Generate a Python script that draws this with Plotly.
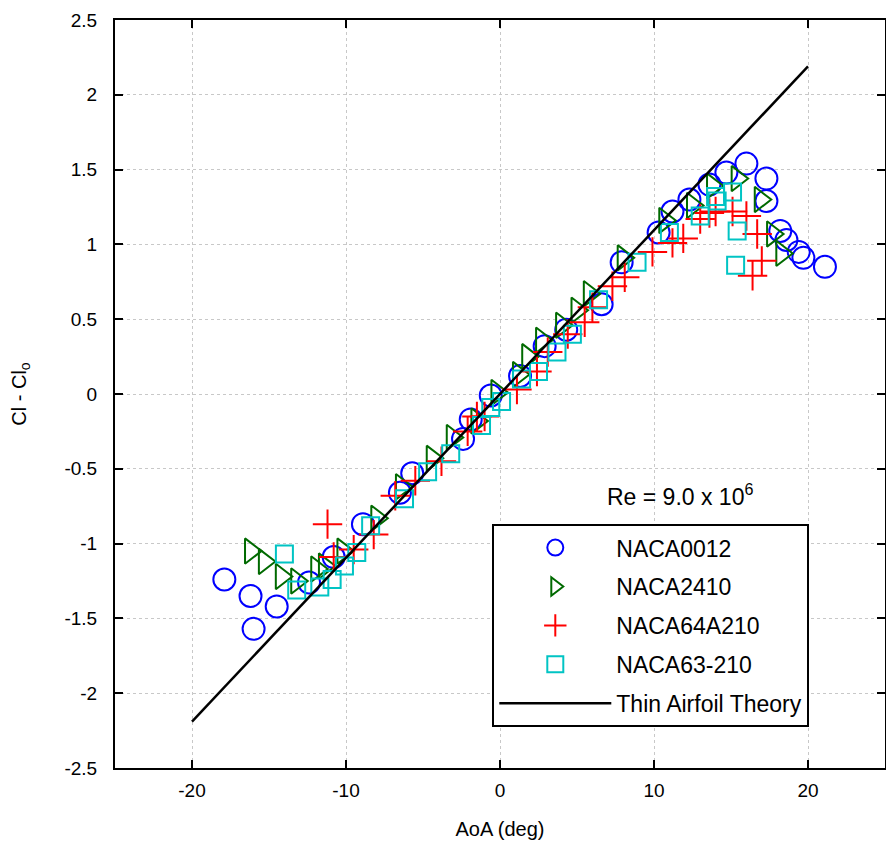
import plotly.graph_objects as go

# ---- data ----
naca0012_aoa = [-17.9, -16.2, -14.5, -16.0, -12.4, -10.8, -8.9, -6.5, -5.7, -2.4, -1.9, -0.6,
                1.3, 2.9, 4.3, 6.6, 7.9, 10.3, 11.2, 12.3, 13.6, 14.7, 16.0, 17.3, 17.3,
                18.2, 18.6, 19.4, 19.7, 21.1]
naca0012_cl = [-1.24, -1.35, -1.42, -1.57, -1.26, -1.09, -0.87, -0.66, -0.53, -0.30, -0.17, -0.01,
               0.12, 0.32, 0.43, 0.60, 0.88, 1.08, 1.22, 1.30, 1.40, 1.48, 1.54, 1.44, 1.29,
               1.09, 1.03, 0.95, 0.91, 0.85]

naca2410_aoa = [-16.2, -15.3, -14.2, -13.2, -11.9, -11.4, -10.2, -8.0, -6.4, -4.4, -3.1,
                -1.5, -0.2, 1.2, 1.8, 2.7, 4.0, 5.0, 5.8, 8.0, 10.7, 12.5, 13.8, 15.4,
                16.9, 17.7, 18.3]
naca2410_cl = [-1.05, -1.12, -1.22, -1.25, -1.17, -1.15, -1.05, -0.83, -0.62, -0.43, -0.29,
               -0.18, 0.01, 0.13, 0.25, 0.36, 0.46, 0.56, 0.67, 0.91, 1.16, 1.26, 1.39, 1.44,
               1.30, 1.07, 0.94]

naca64a210_aoa = [-11.2, -10.8, -9.5, -8.2, -6.8, -5.5, -3.8, -2.1, -1.5, -1.0, 1.1, 2.4,
                  3.1, 4.4, 5.5, 6.0, 7.3, 8.1, 9.9, 11.2, 11.9, 13.0, 13.6, 14.0, 15.1,
                  16.0, 16.7, 17.0, 16.4]
naca64a210_cl = [-0.87, -1.09, -1.04, -0.94, -0.68, -0.58, -0.45, -0.25, -0.15, -0.15, 0.03, 0.15,
                 0.28, 0.40, 0.48, 0.58, 0.72, 0.78, 0.95, 1.01, 1.04, 1.17, 1.21, 1.22, 1.22,
                 1.19, 1.07, 0.89, 0.79]

naca63210_aoa = [-14.0, -13.2, -11.7, -10.9, -10.1, -9.3, -8.4, -6.2, -4.7, -3.2, -1.2,
                 -0.6, 0.1, 1.4, 2.5, 3.7, 4.7, 6.4, 8.9, 11.0, 13.0, 14.0, 14.1, 15.1,
                 15.4, 15.3]
naca63210_cl = [-1.07, -1.31, -1.29, -1.24, -1.15, -1.06, -0.88, -0.70, -0.52, -0.40, -0.21,
                -0.09, -0.05, 0.10, 0.15, 0.28, 0.40, 0.63, 0.88, 1.08, 1.19, 1.32, 1.29, 1.35,
                1.09, 0.86]

theory_aoa = [-20, 20]
theory_cl = [-2.19, 2.19]

x_tickvals = [-20, -10, 0, 10, 20]
x_ticktext = ["-20", "-10", "0", "10", "20"]
y_tickvals = [-2.5, -2, -1.5, -1, -0.5, 0, 0.5, 1, 1.5, 2, 2.5]
y_ticktext = ["-2.5", "-2", "-1.5", "-1", "-0.5", "0", "0.5", "1", "1.5", "2", "2.5"]

FONT = "Liberation Sans, Arial, sans-serif"

fig = go.Figure()

def add_series(x, y, name, symbol, color, size, group):
    fig.add_trace(go.Scatter(
        x=x, y=y, mode="markers", name=name, legendgroup=group,
        marker=dict(symbol=symbol, size=size, color=color,
                    line=dict(color=color, width=2)),
    ))

add_series(naca0012_aoa, naca0012_cl, "NACA0012", "circle-open", "#0000ff", 22, "a")
add_series(naca2410_aoa, naca2410_cl, "NACA2410", "triangle-right-open", "#006a00", 22, "b")
add_series(naca64a210_aoa, naca64a210_cl, "NACA64A210", "cross-thin-open", "#ff0000", 21, "c")
add_series(naca63210_aoa, naca63210_cl, "NACA63-210", "square-open", "#00c4c4", 17, "d")

fig.add_trace(go.Scatter(
    x=theory_aoa, y=theory_cl, mode="lines", name="Thin Airfoil Theory", legendgroup="e",
    line=dict(color="black", width=2.5),
))

axis_common = dict(
    showline=True, linecolor="black", linewidth=2, mirror="ticks",
    ticks="inside", ticklen=8, tickwidth=2, tickcolor="black",
    showgrid=True, gridcolor="#c8c8c8", griddash="dot", gridwidth=1,
    zeroline=False, tickfont=dict(family=FONT, size=19, color="black"),
    automargin=False, ticklabeloverflow="allow",
)

fig.update_layout(
    width=886, height=837,
    paper_bgcolor="white", plot_bgcolor="white",
    margin=dict(l=107, r=9, t=12, b=77),
    font=dict(family=FONT, color="black"),
    xaxis=dict(range=[-25, 25], tickvals=x_tickvals, ticktext=x_ticktext,
               ticklabelstandoff=4,
               title=dict(text="AoA (deg)", font=dict(family=FONT, size=20), standoff=22),
               **axis_common),
    yaxis=dict(range=[-2.5, 2.5], tickvals=y_tickvals, ticktext=y_ticktext,
               ticklabelstandoff=12,
               title=dict(text="Cl - Cl<sub>o</sub>", font=dict(family=FONT, size=20), standoff=34),
               **axis_common),
    showlegend=True,
    legend=dict(
        x=0.49, y=0.326, xanchor="left", yanchor="top",
        bgcolor="white", bordercolor="black", borderwidth=2,
        font=dict(family=FONT, size=23, color="black"),
        itemwidth=112, traceorder="grouped", tracegroupgap=6,
        itemsizing="trace",
    ),
    annotations=[dict(
        text="Re = 9.0 x 10<sup>6</sup>", x=0.734, y=0.365, xref="paper", yref="paper",
        showarrow=False, xanchor="center", yanchor="middle",
        font=dict(family=FONT, size=23, color="black"),
    )],
)

fig.write_html("out.html")
